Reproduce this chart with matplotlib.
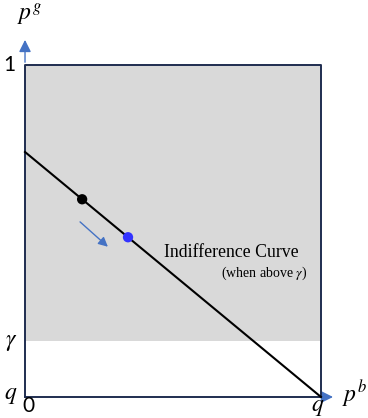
import matplotlib
matplotlib.use("Agg")
import matplotlib.pyplot as plt

plt.rcParams['mathtext.fontset'] = 'stix'

# data (unit square, outcome space)
gamma = 0.169
intercept = 0.738
line_x = [0.0, 1.0]
line_y = [intercept, 0.0]
dot_x = [0.193, 0.348]
dot_colors = ['black', '#3333ff']
arrow_start = (0.179, 0.533)
arrow_end = (0.287, 0.447)

fig = plt.figure(figsize=(3.68, 4.18), dpi=100)
ax = fig.add_axes([0, 0, 1, 1])
ax.set_xlim(-0.0845, 1.1588)
ax.set_ylim(-0.0633, 1.1958)
ax.axis('off')

navy = '#1f2d50'
axblue = '#4472c4'

# grey region above gamma
ax.fill_between([0, 1], [gamma, gamma], [1, 1], color='#d9d9d9', lw=0, zorder=1)
# frame
ax.plot([0, 0, 1, 1, 0], [0, 1, 1, 0, 0], color=navy, lw=1.4, zorder=3)

# axis arrows
ax.annotate('', xy=(0, 1.084), xytext=(0, 1.0),
            arrowprops=dict(arrowstyle='-|>', color=axblue, lw=1, mutation_scale=18), zorder=2)
ax.annotate('', xy=(1.05, 0), xytext=(1.0, 0),
            arrowprops=dict(arrowstyle='-|>', color=axblue, lw=1, mutation_scale=18), zorder=2)

# indifference line
ax.plot(line_x, line_y, color='black', lw=1.5, zorder=4)
for x, c in zip(dot_x, dot_colors):
    ax.scatter([x], [intercept * (1 - x)], s=55, color=c, zorder=5, edgecolors='none')

ax.annotate('', xy=arrow_end, xytext=arrow_start,
            arrowprops=dict(arrowstyle='-|>', color=axblue, lw=1, mutation_scale=14), zorder=4)

ax.text(0.470, 0.434, 'Indifference Curve', family='Liberation Serif', fontsize=12.8,
        ha='left', va='center', zorder=6)
ax.text(0.953, 0.373, r'(when above $\gamma$)', family='Liberation Serif', fontsize=10,
        ha='right', va='center', zorder=6)

# tick-like labels
num = dict(family='Lato', fontsize=15, zorder=6)
mth = dict(fontsize=17, zorder=6)
ax.text(-0.034, 1.0, '1', ha='right', va='center', **num)
ax.text(-0.027, gamma, r'$\gamma$', ha='right', va='center', **mth)
ax.text(-0.027, 0.008, r'$q$', ha='right', va='center', **mth)
ax.text(0.01, -0.044, '0', ha='center', va='baseline', **num)
ax.text(0.99, -0.042, r'$q$', ha='center', va='baseline', **mth)
ax.text(-0.027, 1.133, r'$p^g$', ha='left', va='baseline', **mth)
ax.text(1.072, -0.015, r'$p^b$', ha='left', va='baseline', **mth)

fig.savefig('out.png', dpi=100)
